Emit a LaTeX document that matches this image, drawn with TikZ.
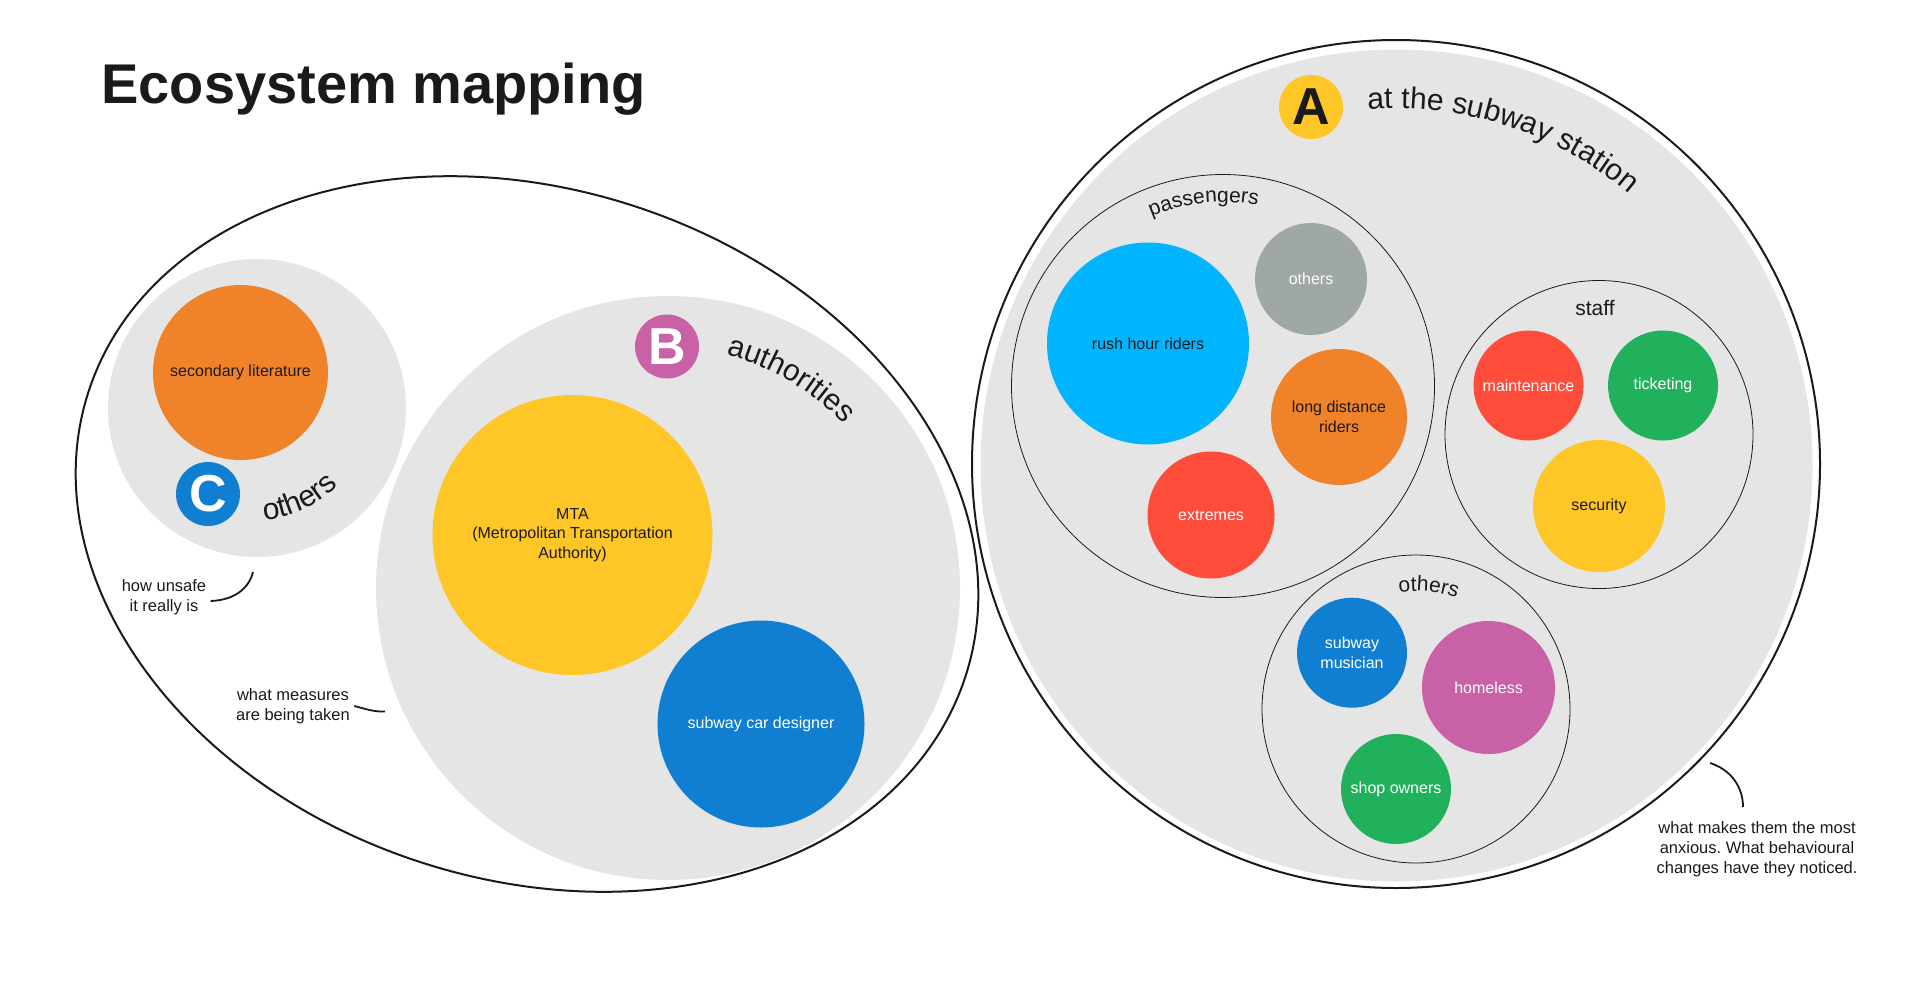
\documentclass[tikz,border=0pt]{standalone}
\usepackage{fontspec}
\setmainfont{Liberation Sans}
\usetikzlibrary{decorations.text}

\definecolor{ink}{HTML}{1A1A1A}
\definecolor{bggray}{HTML}{E5E5E5}
\definecolor{skyblue}{HTML}{00B4FD}
\definecolor{stone}{HTML}{A0A7A7}
\definecolor{tangerine}{HTML}{F0832A}
\definecolor{tomato}{HTML}{FF4C3B}
\definecolor{leaf}{HTML}{21B05B}
\definecolor{sun}{HTML}{FFC627}
\definecolor{azure}{HTML}{107FD2}
\definecolor{orchid}{HTML}{C861A5}

\tikzset{
  zone/.style={circle,fill=bggray,inner sep=0pt},
  ring/.style={circle,draw=ink,line width=0.4pt,inner sep=0pt},
  bubble/.style={circle,inner sep=0pt,align=center,text=white,font=\fontsize{8pt}{9.8pt}\selectfont},
  badge/.style={circle,inner sep=0pt,minimum size=32pt,font=\fontsize{26pt}{26pt}\selectfont\bfseries},
  note/.style={align=center,inner sep=2pt,text=ink,font=\fontsize{8.25pt}{9.9pt}\selectfont},
  noteline/.style={draw=ink,line width=0.9pt},
}

% text bent along a circle: centre node, radius, from, to, size, text
\newcommand{\arclabel}[6]{%
  \path[decorate,decoration={text along path,text align=center,
      text={|\fontsize{#5}{#5}\selectfont\color{ink}|#6}}]
    ([shift={(#3:#2)}]#1.center) arc[start angle=#3,end angle=#4,radius=#2];}

\begin{document}
\frenchspacing
\begin{tikzpicture}[x=0.5pt,y=-0.5pt]
\useasboundingbox (0,0) rectangle (1920,980);

\node[anchor=base west,inner sep=0pt,text=ink,font=\fontsize{28pt}{28pt}\selectfont\bfseries] (title) at (101,103) {Ecosystem mapping};

% B and C
\draw[ink,line width=1pt,rotate around={-18:(527,534)}] (527,534) ellipse[x radius=461,y radius=345];
\node[zone,minimum size=149pt] (others) at (257,408) {};
\node[zone,minimum size=292pt] (authorities) at (668,588) {};

\node[bubble,fill=tangerine,text=ink,minimum size=87.5pt] (literature) at (240.5,372.5) {secondary literature};
\node[badge,fill=azure,text=white] (C) at (208,494) {C};
\node[bubble,fill=sun,text=ink,minimum size=140pt] (mta) at (572.5,535) {MTA\\(Metropolitan Transportation\\Authority)};
\node[bubble,fill=azure,minimum size=103.5pt] (designer) at (761,724) {subway car designer};
\node[badge,fill=orchid,text=white] (B) at (667,346.5) {B};

\arclabel{others}{112}{115}{15}{15pt}{others}
\arclabel{authorities}{240}{-100}{-19}{15pt}{authorities}

% A
\node[circle,draw=ink,line width=1pt,inner sep=0pt,minimum size=424pt] (rim) at (1396,464) {};
\node[zone,minimum size=416pt] (station) at (1396.5,465.5) {};
\node[badge,fill=sun,text=ink] (A) at (1311,107) {A};
\arclabel{station}{357}{-117}{-27}{15pt}{at the subway station}

\node[ring,minimum size=211.5pt] (passengers) at (1223,386) {};
\node[bubble,fill=skyblue,text=ink,minimum size=101pt] (rush) at (1148,343.5) {rush hour riders};
\node[bubble,fill=stone,minimum size=56pt] (grey) at (1311,279) {others};
\node[bubble,fill=tangerine,text=ink,minimum size=68pt] (longdist) at (1339,417) {long distance\\riders};
\node[bubble,fill=tomato,minimum size=63.5pt] (extremes) at (1211,515) {extremes};
\arclabel{passengers}{184}{-131}{-61}{10.5pt}{passengers}

\node[ring,minimum size=154pt] (staff) at (1599,434.5) {};
\node[anchor=base,inner sep=0pt,text=ink,font=\fontsize{10.5pt}{10.5pt}\selectfont] (stafflabel) at (1595,315) {staff};
\node[bubble,fill=tomato,minimum size=55pt] (maintenance) at (1528.5,385.5) {maintenance};
\node[bubble,fill=leaf,minimum size=55pt] (ticketing) at (1663,385.5) {ticketing};
\node[bubble,fill=sun,text=ink,minimum size=66pt] (security) at (1599,506) {security};

\node[ring,minimum size=154pt] (extras) at (1416,709) {};
\arclabel{extras}{118}{-114}{-54}{10.5pt}{others}
\node[bubble,fill=azure,minimum size=55pt] (musician) at (1352,652.7) {subway\\musician};
\node[bubble,fill=orchid,minimum size=66.5pt] (homeless) at (1488.5,687.5) {homeless};
\node[bubble,fill=leaf,minimum size=55pt] (shop) at (1396,789) {shop owners};

% notes
\node[note] (unsafe) at (164,597) {how unsafe\\it really is};
\node[note] (measures) at (293,706) {what measures\\are being taken};
\node[note] (anxious) at (1757,849) {what makes them the most\\anxious. What behavioural\\changes have they noticed.};

\coordinate (unsafetip) at (253,572);
\coordinate (measurestip) at (385,711.5);
\coordinate (anxioustip) at (1710,763);

\draw[noteline] ([yshift=-2pt]unsafe.east) .. controls (238,600) and (250,585) .. (unsafetip);
\draw[noteline] (measures.east) .. controls (366,709) and (374,712) .. (measurestip);
\draw[noteline] ([xshift=-7pt,yshift=5pt]anxious.north) .. controls (1743,785) and (1729,769) .. (anxioustip);
\end{tikzpicture}
\end{document}
